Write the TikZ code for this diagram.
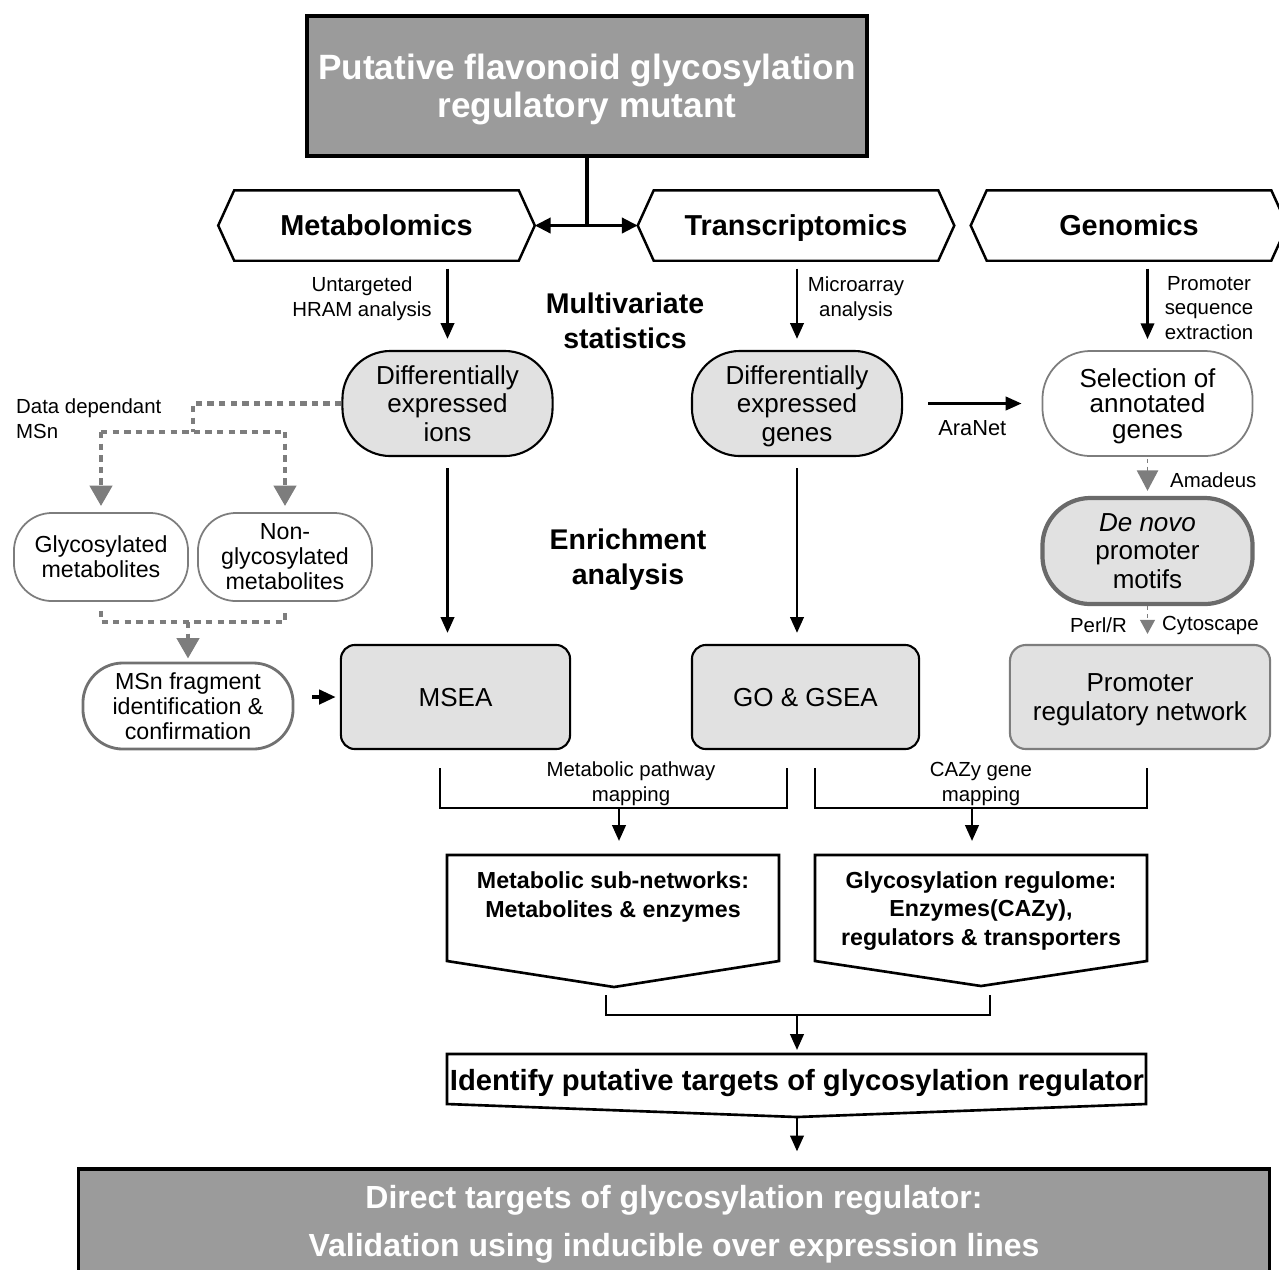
\documentclass[tikz,border=0pt]{standalone}
\usepackage{fontspec}
\setmainfont{Liberation Sans}
\usetikzlibrary{arrows.meta}

\definecolor{boxdark}{RGB}{155,155,155}
\definecolor{boxlight}{RGB}{225,225,225}
\definecolor{linegrey}{RGB}{125,125,125}

\tikzset{
  arr/.style={line width=0.75pt, -{Triangle[length=4.5pt,width=3.8pt]}},
  dblarr/.style={line width=1pt, -{Triangle[length=4.5pt,width=4.3pt]}},
  greyarr/.style={linegrey, line width=0.5pt, dash pattern=on 1.2pt off 1pt, -{Triangle[length=5.8pt,width=6pt]}},
  dotline/.style={linegrey, line width=1.3pt, dash pattern=on 1.8pt off 1.5pt},
  dottip/.style={-{Triangle[length=5.8pt,width=6.2pt]}},
  omics/.style={minimum width=2.83cm, minimum height=0.69cm, inner sep=0pt, text depth=0pt, font=\bfseries\fontsize{8.2}{9}\selectfont},
  hexline/.style={line width=0.7pt},
  pill/.style={draw, line width=0.6pt, rounded corners=0.48cm, minimum width=2.1cm, minimum height=1.05cm, align=center, inner sep=1pt, text depth=0pt, font=\fontsize{7.4}{8}\selectfont},
  smallpill/.style={draw=linegrey, line width=0.5pt, rounded corners=0.38cm, minimum width=1.74cm, minimum height=0.88cm, align=center, inner sep=1pt, font=\fontsize{6.6}{7.1}\selectfont},
  enrbox/.style={draw, line width=0.6pt, fill=boxlight, rounded corners=0.14cm, minimum height=1.04cm, align=center, text depth=0pt, font=\fontsize{7.4}{8}\selectfont},
  lbl/.style={inner sep=1pt, align=center, font=\fontsize{5.8}{7}\selectfont},
  headtxt/.style={align=center, font=\bfseries\fontsize{8.1}{10}\selectfont},
  restxt/.style={align=center, font=\bfseries\fontsize{6.6}{8}\selectfont},
}

\begin{document}
\begin{tikzpicture}[x=0.01cm,y=-0.01cm]
\useasboundingbox (0,0) rectangle (1279,1269);
\clip (0,0) rectangle (1279,1269);

\node[draw, line width=1.1pt, fill=boxdark, text=white, minimum width=5.6cm, minimum height=1.4cm, align=center, text depth=0pt, font=\bfseries\fontsize{10}{10.8}\selectfont] (mutant) at (587,86) {Putative flavonoid glycosylation\\regulatory mutant};

\node[omics] (meta) at (376.5,225.5) {Metabolomics};
\node[omics] (trans) at (796,225.5) {Transcriptomics};
\node[omics] (geno) at (1129,225.5) {Genomics};

\draw[hexline] (meta.north west) -- (meta.north east) -- ([xshift=0.16cm]meta.east) -- (meta.south east) -- (meta.south west) -- ([xshift=-0.16cm]meta.west) -- cycle;
\draw[hexline] (trans.north west) -- (trans.north east) -- ([xshift=0.16cm]trans.east) -- (trans.south east) -- (trans.south west) -- ([xshift=-0.16cm]trans.west) -- cycle;
\draw[hexline] (geno.north west) -- (geno.north east) -- ([xshift=0.16cm]geno.east) -- (geno.south east) -- (geno.south west) -- ([xshift=-0.16cm]geno.west) -- cycle;

\coordinate (fork) at (mutant.south |- meta.east);
\draw[line width=1pt] (mutant.south) -- (fork);
\draw[dblarr] (fork) -- ([xshift=0.16cm]meta.east);
\draw[dblarr] (fork) -- ([xshift=-0.16cm]trans.west);

\node[pill, fill=boxlight] (ions) at (447.5,403.5) {Differentially\\expressed\\ions};
\node[pill, fill=boxlight] (genes) at (797,403.5) {Differentially\\expressed\\genes};
\node[pill, draw=linegrey, line width=0.5pt, font=\fontsize{7.4}{7.2}\selectfont] (selec) at (1147.5,403.5) {Selection of\\annotated\\genes};
\node[pill, fill=boxlight, draw=linegrey!85!black, line width=1.2pt, font=\fontsize{7.4}{8.1}\selectfont, minimum height=1.06cm] (denovo) at (1147.5,551) {\textit{De novo}\\promoter\\motifs};

\node[lbl] (lbluntg) at (362,298.5) {Untargeted\\HRAM analysis};
\node[lbl] (lblmicro) at (856,298.5) {Microarray\\analysis};
\node[lbl] (lblprom) at (1209,308) {Promoter\\sequence\\extraction};
\node[headtxt] (multivar) at (625,320.5) {Multivariate\\statistics};
\node[headtxt] (enrich) at (628,559.5) {Enrichment\\analysis};

\draw[arr, shorten <=0.08cm, shorten >=0.11cm] (meta.south -| ions.north) -- (ions.north);
\draw[arr, shorten <=0.08cm, shorten >=0.11cm] (trans.south -| genes.north) -- (genes.north);
\draw[arr, shorten <=0.08cm, shorten >=0.11cm] (geno.south -| selec.north) -- (selec.north);
\draw[arr, shorten <=0.25cm, shorten >=0.2cm] (genes.east) -- (selec.west) node[lbl, midway, yshift=-0.245cm, font=\fontsize{6.2}{7}\selectfont] (lblaranet) {AraNet};

\node[enrbox, minimum width=2.29cm] (msea) at (455.5,697) {MSEA};
\node[enrbox, minimum width=2.27cm] (gogsea) at (805.5,697) {GO \& GSEA};
\node[enrbox, minimum width=2.6cm, draw=linegrey, rounded corners=0.16cm] (promnet) at (1140,697) {Promoter\\regulatory network};

\draw[greyarr, shorten <=0.02cm, shorten >=0.05cm] (selec.south) -- (denovo.north);
\node[lbl, anchor=west] (lblamadeus) at (1166,480) {Amadeus};
\draw[greyarr, -{Triangle[length=4pt,width=4.2pt]}, shorten >=0.1cm] (denovo.south) -- (denovo.south |- promnet.north);
\node[lbl, anchor=east] (lblperl) at (1131,625) {Perl/R};
\node[lbl, anchor=west] (lblcyto) at (1158,625) {Cytoscape};

\draw[arr, shorten <=0.11cm, shorten >=0.11cm] (ions.south) -- (ions.south |- msea.north);
\draw[arr, shorten <=0.11cm, shorten >=0.11cm] (genes.south) -- (genes.south |- gogsea.north);

\node[lbl, anchor=west, align=left] (lbldd) at (12,419) {Data dependant\\MSn};
\node[smallpill] (glyco) at (101,557) {Glycosylated\\metabolites};
\node[smallpill] (nonglyco) at (285,557) {Non-\\glycosylated\\metabolites};
\node[smallpill, draw=linegrey!90!black, line width=0.8pt, minimum width=2.1cm, minimum height=0.86cm, rounded corners=0.4cm] (msnfrag) at (188,706) {MSn fragment\\identification \&\\confirmation};

\coordinate (msnsplit) at (193,432);
\draw[dotline] (ions.west) -| (msnsplit);
\draw[dotline] (glyco.north |- msnsplit) -- (nonglyco.north |- msnsplit);
\draw[dotline, dottip, shorten >=0.06cm] (glyco.north |- msnsplit) -- (glyco.north);
\draw[dotline, dottip, shorten >=0.06cm] (nonglyco.north |- msnsplit) -- (nonglyco.north);

\coordinate (msnjoin) at (188,622);
\draw[dotline] ([yshift=-0.09cm]glyco.south) |- (msnjoin) -| ([yshift=-0.09cm]nonglyco.south);
\draw[dotline, dottip, shorten >=0.03cm] (msnjoin) -- (msnfrag.north);
\draw[line width=1.3pt, dash pattern=on 1.8pt off 2.2pt, -{Triangle[length=4.8pt,width=4pt]}, shorten <=0.18cm, shorten >=0.04cm] (msnfrag.east |- msea.west) -- (msea.west);

\draw[line width=0.75pt] (440,768) |- (787,808) -- (787,768);
\draw[line width=0.75pt] (815,768) |- (1147,808) -- (1147,768);
\coordinate (lbrk) at (619,808);
\coordinate (rbrk) at (972,808);
\node[lbl] (lblpath) at (631,784) {Metabolic pathway\\mapping};
\node[lbl] (lblcazy) at (981,784) {CAZy gene\\mapping};

\coordinate (subnetN) at (619,855);
\coordinate (regN) at (972,855);
\draw[arr, shorten >=0.14cm] (lbrk) -- (subnetN);
\draw[arr, shorten >=0.14cm] (rbrk) -- (regN);

\draw[line width=0.75pt] (447,855) -- (779,855) -- (779,961) -- (614,987) -- (447,961) -- cycle;
\draw[line width=0.75pt] (815,855) -- (1147,855) -- (1147,961) -- (981,986) -- (815,961) -- cycle;
\node[restxt] (subnet) at (613,897) {Metabolic sub-networks:\\Metabolites \& enzymes};
\node[restxt] (regulome) at (981,911) {Glycosylation regulome:\\Enzymes(CAZy),\\regulators \& transporters};

\draw[line width=0.75pt] (606,995) |- (990,1015) -- (990,995);
\coordinate (bbrk) at (797,1015);
\coordinate (identN) at (797,1054);
\draw[arr, shorten >=0.04cm] (bbrk) -- (identN);

\draw[line width=0.75pt] (447,1054) -- (1146,1054) -- (1146,1104) -- (797,1117) -- (447,1104) -- cycle;
\node[text depth=0pt, font=\bfseries\fontsize{8.3}{9}\selectfont] (ident) at (797,1080) {Identify putative targets of glycosylation regulator};
\coordinate (identS) at (797,1117);

\node[draw, line width=0.9pt, fill=boxdark, text=white, minimum width=11.9cm, minimum height=1.04cm, align=center, text depth=0pt, font=\bfseries\fontsize{9.1}{13.7}\selectfont] (direct) at (674,1221) {Direct targets of glycosylation regulator:\\Validation using inducible over expression lines};
\draw[arr, shorten >=0.16cm] (identS) -- (identS |- direct.north);

\end{tikzpicture}
\end{document}
